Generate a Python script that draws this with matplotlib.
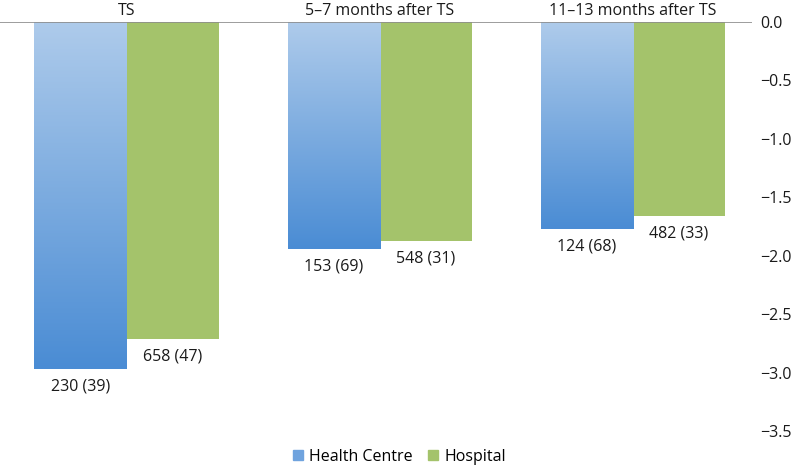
import numpy as np
import matplotlib.pyplot as plt
from matplotlib.colors import LinearSegmentedColormap
from matplotlib.patches import Patch

plt.rcParams['font.family'] = ['Open Sans', 'DejaVu Sans']

# data
periods = ['TS', '5\u20137 months after TS', '11\u201313 months after TS']
health_centre = [-2.97, -1.94, -1.77]
hospital = [-2.71, -1.87, -1.66]
hc_labels = ['230 (39)', '153 (69)', '124 (68)']
hosp_labels = ['658 (47)', '548 (31)', '482 (33)']

fig = plt.figure(figsize=(7.99, 4.68), dpi=100)
ax = fig.add_axes([0.0, 1 - 431 / 468, 752 / 799, (431 - 22) / 468])

x = np.arange(len(periods))
w = 0.364
fs = 11.5

blue_cmap = LinearSegmentedColormap.from_list('hc', ['#aecbeb', '#4a8cd4'])
green = '#a4c36b'

hc_bars = ax.bar(x - w / 2, health_centre, w, color='none', zorder=2)
hosp_bars = ax.bar(x + w / 2, hospital, w, color=green, zorder=2)

# gradient fill for the Health Centre bars
grad = np.linspace(0, 1, 256).reshape(-1, 1)
for b in hc_bars:
    x0, y0 = b.get_x(), b.get_y()
    bw, bh = b.get_width(), b.get_height()
    ax.imshow(grad, cmap=blue_cmap, aspect='auto', zorder=2,
              extent=[x0, x0 + bw, min(y0, y0 + bh), max(y0, y0 + bh)],
              origin='upper')

for bars, labels in [(hc_bars, hc_labels), (hosp_bars, hosp_labels)]:
    for b, lab in zip(bars, labels):
        ax.annotate(lab, (b.get_x() + b.get_width() / 2, b.get_y() + b.get_height()),
                    xytext=(0, -7), textcoords='offset points',
                    ha='center', va='top', fontsize=fs, color='#1a1a1a')

ax.set_xlim(-0.5, 2.47)
ax.set_ylim(-3.5, 0)
ax.axhline(0, color='#8c8c8c', lw=1.2, zorder=3)

ax.xaxis.tick_top()
ax.set_xticks(x)
ax.set_xticklabels(periods, fontsize=fs, color='#1a1a1a')
ax.tick_params(axis='x', length=0, pad=2)

ax.yaxis.tick_right()
ax.set_yticks(np.arange(-3.5, 0.01, 0.5))
ax.set_yticklabels([f'{v:.1f}'.replace('-', '\u2212') for v in np.arange(-3.5, 0.01, 0.5)],
                   fontsize=fs, color='#1a1a1a')
ax.tick_params(axis='y', length=0, pad=6)

for s in ax.spines.values():
    s.set_visible(False)

handles = [Patch(color='#6fa3de', label='Health Centre'), Patch(color=green, label='Hospital')]
fig.legend(handles=handles, loc='center', bbox_to_anchor=(0.5, 1 - 457 / 468), ncol=2,
           frameon=False, fontsize=fs, handlelength=0.6, handleheight=0.6,
           handletextpad=0.4, columnspacing=1.0)

fig.savefig('out.png', dpi=100)
